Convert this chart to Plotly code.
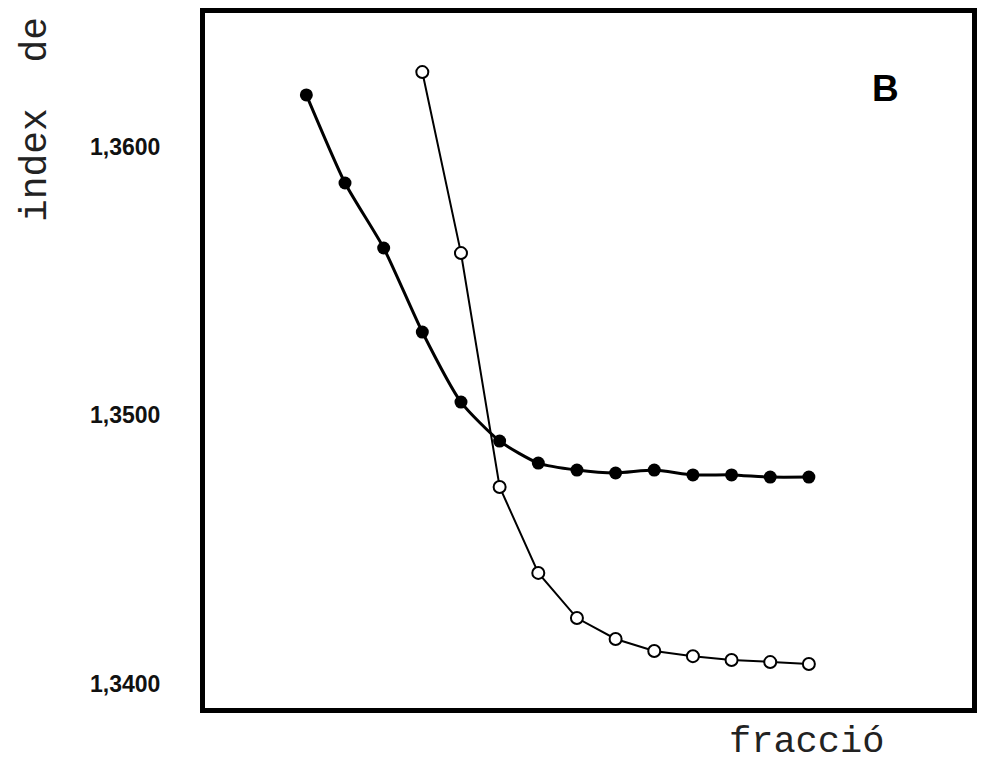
import plotly.graph_objects as go

# Fractions (x) and refractive index (y)
frac_filled = [1, 2, 3, 4, 5, 6, 7, 8, 9, 10, 11, 12, 13, 14]
index_filled = [1.36192, 1.35864, 1.35622, 1.35309, 1.35048, 1.34903, 1.34821,
                1.34795, 1.34784, 1.34795, 1.34777, 1.34777, 1.34769, 1.34769]

frac_open = [4, 5, 6, 7, 8, 9, 10, 11, 12, 13, 14]
index_open = [1.36277, 1.35603, 1.34732, 1.34412, 1.34244, 1.34166, 1.34121,
              1.34102, 1.34088, 1.34080, 1.34073]

y_tick_vals = [1.36, 1.35, 1.34]
y_tick_text = ["1,3600", "1,3500", "1,3400"]

mono = "Courier New, Nimbus Mono PS, FreeMono, Liberation Mono, monospace"

fig = go.Figure()
fig.add_trace(go.Scatter(
    x=frac_filled, y=index_filled, mode="lines+markers",
    line=dict(color="black", width=3, shape="spline", smoothing=0.6),
    marker=dict(size=13, color="black", symbol="circle"),
    showlegend=False, hoverinfo="skip"))
fig.add_trace(go.Scatter(
    x=frac_open, y=index_open, mode="lines+markers",
    line=dict(color="black", width=2),
    marker=dict(size=12, color="white", symbol="circle",
                line=dict(color="black", width=2)),
    showlegend=False, hoverinfo="skip"))

fig.update_layout(
    width=983, height=764,
    margin=dict(l=205, r=6, t=13, b=56),
    paper_bgcolor="white", plot_bgcolor="white",
    xaxis=dict(range=[-1.622, 18.22], showgrid=False, zeroline=False,
               showticklabels=False, ticks="",
               showline=True, linecolor="black", linewidth=5, mirror=True),
    yaxis=dict(range=[1.33909, 1.36497], showgrid=False, zeroline=False,
               tickvals=y_tick_vals, ticktext=y_tick_text, ticks="",
               ticklabelstandoff=35,
               tickfont=dict(family="Liberation Sans", size=23, color="#111",
                             weight="bold"),
               showline=True, linecolor="black", linewidth=5, mirror=True),
    font=dict(family="Liberation Sans", color="black"),
    annotations=[
        dict(text="<b>B</b>", x=(890 - 205) / 772, y=(708 - 88) / 695,
             xref="paper", yref="paper", showarrow=False,
             xanchor="center", yanchor="middle",
             font=dict(family="Liberation Sans", size=37, color="black")),
        dict(text="fracció", x=(810 - 205) / 772, y=(708 - 742) / 695,
             xref="paper", yref="paper", showarrow=False,
             xanchor="center", yanchor="middle",
             font=dict(family=mono, size=37, color="#222")),
        dict(text="index\u00a0\u00a0de", x=(35 - 205) / 772, y=(708 - 120) / 695,
             xref="paper", yref="paper", showarrow=False, textangle=-90,
             xanchor="center", yanchor="middle",
             font=dict(family=mono, size=38, color="#222")),
    ],
)

fig.write_html("out.html")
